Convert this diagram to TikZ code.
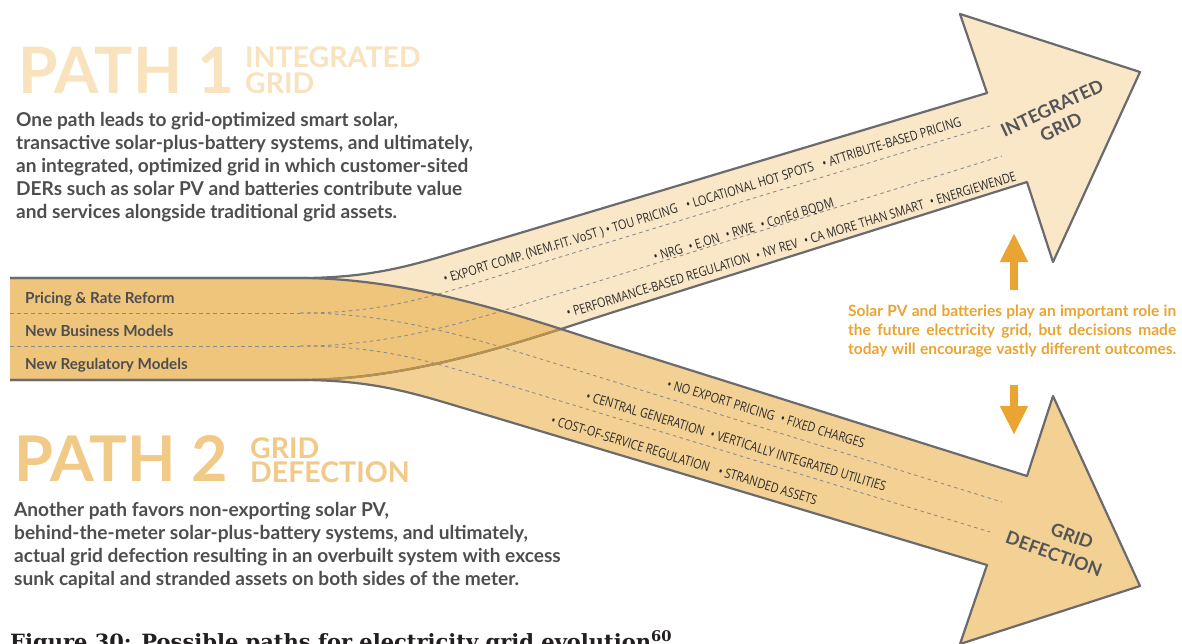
\documentclass[tikz,border=0pt]{standalone}
\usepackage{fontspec}
\newfontfamily\lato{Lato}
\newfontfamily\condfont[FakeStretch=0.82]{Open Sans}
\newfontfamily\capfont{DejaVu Serif}
\usetikzlibrary{arrows.meta}
\definecolor{lightfill}{HTML}{FAE7C8}
\definecolor{midfill}{HTML}{F3D194}
\definecolor{darkfill}{HTML}{EFC47B}
\definecolor{edgegray}{HTML}{6B6B6E}
\definecolor{goldline}{HTML}{B8924C}
\definecolor{dashgray}{HTML}{8C8C8C}
\definecolor{path1col}{HTML}{F9E3BE}
\definecolor{path2col}{HTML}{F2CA88}
\definecolor{bodycol}{HTML}{4E4E50}
\definecolor{headgray}{HTML}{555557}
\definecolor{orangecol}{HTML}{EAA431}
\definecolor{lanecol}{HTML}{2B2B2B}
\definecolor{captioncol}{HTML}{231F20}
\tikzset{
 edge/.style={draw=edgegray, line width=2.2pt, line join=round},
 goldedge/.style={draw=goldline, line width=2.2pt},
 dashline/.style={draw=dashgray, line width=0.9pt, dash pattern=on 3.5pt off 3.5pt},
 lane/.style={font=\condfont\fontsize{13.3}{13.3}\selectfont, text=lanecol, inner sep=0pt, anchor=base west},
 bandlabel/.style={font=\lato\bfseries\fontsize{15.2}{15.2}\selectfont, text=bodycol, inner sep=0pt, anchor=base west},
 body/.style={font=\lato\bfseries\fontsize{19.1}{22.8}\selectfont, text=bodycol, inner sep=0pt, anchor=base west, align=left},
 bigpath/.style={inner sep=0pt, anchor=base west},
 subhead/.style={inner sep=0pt, anchor=base west, align=left},
 headtxt/.style={font=\lato\bfseries\fontsize{18}{18}\selectfont, text=headgray, inner sep=0pt},
 orarrow/.style={draw=orangecol, line width=8pt, -{Triangle[width=26pt,length=29pt]}},
}
\def\upperpath{(10,278) -- (300,278) .. controls (370,278) and (410,266) .. (460,251) -- (987,93) -- (960,14) -- (1140,72) -- (1053,262) -- (1027,182) -- (620,310) .. controls (540,335) and (420,380) .. (300,380) -- (10,380)}
\def\lowerpath{(10,278) -- (300,278) .. controls (420,278) and (540,323) .. (620,348) -- (1027,476) -- (1053,396) -- (1140,586) -- (960,644) -- (987,565) -- (460,407) .. controls (410,392) and (370,380) .. (300,380) -- (10,380)}
\begin{document}
\begin{tikzpicture}[x=1pt,y=-1pt]
\useasboundingbox (0,0) rectangle (1182,643);
\fill[white] (0,0) rectangle (1182,643);
% fills
\fill[midfill] \lowerpath -- cycle;
\fill[lightfill] \upperpath -- cycle;
\begin{scope}
 \clip \upperpath -- cycle;
 \fill[darkfill] \lowerpath -- cycle;
\end{scope}
% dashed lane lines
\draw[dashline] (10,313) -- (300,313);
\draw[dashline] (10,346) -- (300,346);
\draw[dashline] (300,313) .. controls (390,313) and (440,293.7) .. (520,269.3) -- (990,126);
\draw[dashline] (300,346) .. controls (400,346) and (480,317.5) .. (570,290) -- (1002,156);
\draw[dashline] (300,313) .. controls (400,313) and (480,340.5) .. (570,368) -- (1002,502);
\draw[dashline] (300,346) .. controls (390,346) and (440,364.3) .. (520,388.7) -- (990,532);
% edges
\draw[edge] \upperpath;
\begin{scope}
 \clip \lowerpath -- cycle;
 \draw[goldedge] (620,310) .. controls (540,335) and (420,380) .. (300,380);
\end{scope}
\draw[edge] \lowerpath;
% band labels
\node[bandlabel] (l1) at (25,303) {Pricing \& Rate Reform};
\node[bandlabel] (l2) at (25,336) {New Business Models};
\node[bandlabel] (l3) at (25,369) {New Regulatory Models};
% lane texts upper
\node[lane, rotate=17] (u1) at (445,284) {• EXPORT COMP. (NEM.FIT. VoST ) • TOU PRICING\enspace\ • LOCATIONAL HOT SPOTS\enspace\ • ATTRIBUTE-BASED PRICING};
\node[lane, rotate=17] (u2) at (655,262) {• NRG\enspace • E.ON\enspace • RWE\enspace • ConEd BQDM};
\node[lane, rotate=17] (u3) at (568,318) {• PERFORMANCE-BASED REGULATION\enspace • NY REV\enspace • CA MORE THAN SMART\enspace • ENERGIEWENDE};
% lane texts lower
\node[lane, rotate=-17] (d1) at (666,388) {• NO EXPORT PRICING\enspace • FIXED CHARGES};
\node[lane, rotate=-17] (d2) at (585,400) {• CENTRAL GENERATION\enspace • VERTICALLY INTEGRATED UTILITIES};
\node[lane, rotate=-17] (d3) at (550,424) {• COST-OF-SERVICE REGULATION\enspace\ • STRANDED ASSETS};
% arrowhead texts
\node[headtxt, rotate=25] (ig1) at (1052,108) {INTEGRATED};
\node[headtxt, rotate=25] (ig2) at (1061,127) {GRID};
\node[headtxt, rotate=-20] (gd1) at (1072,536) {GRID};
\node[headtxt, rotate=-20] (gd2) at (1054,554) {DEFECTION};
% headings (base anchor = baseline of last line)
\node[bigpath, font=\lato\bfseries\fontsize{64}{64}\selectfont, text=path1col] (p1) at (18,93) {PATH 1};
\node[subhead, font=\lato\bfseries\fontsize{28.5}{26}\selectfont, text=path1col] (p1s) at (245,93) {INTEGRATED\\GRID};
\node[body] (b1) at (16,218) {One path leads to grid-optimized smart solar,\\transactive solar-plus-battery systems, and ultimately,\\an integrated, optimized grid in which customer-sited\\DERs such as solar PV and batteries contribute value\\and services alongside traditional grid assets.};
\node[bigpath, font=\lato\bfseries\fontsize{63}{63}\selectfont, text=path2col] (p2) at (14,481) {PATH 2};
\node[subhead, font=\lato\bfseries\fontsize{28.5}{24}\selectfont, text=path2col] (p2s) at (250,482) {GRID\\DEFECTION};
\node[body] (b2) at (14,585) {Another path favors non-exporting solar PV,\\behind-the-meter solar-plus-battery systems, and ultimately,\\actual grid defection resulting in an overbuilt system with excess\\sunk capital and stranded assets on both sides of the meter.};
% orange note and arrows
\node[inner sep=0pt, anchor=base west, align=left, font=\lato\bfseries\fontsize{15.5}{19}\selectfont, text=orangecol] (note) at (848,354) {\makebox[328pt][s]{Solar PV and batteries play an important role in}\\\makebox[328pt][s]{the future electricity grid, but decisions made}\\\makebox[328pt][s]{today will encourage vastly different outcomes.}};
\coordinate (upbase) at (1014,290);
\coordinate (uptip) at (1014,233);
\coordinate (dnbase) at (1014,385);
\coordinate (dntip) at (1014,435);
\draw[orarrow] (upbase) -- (uptip);
\draw[orarrow] (dnbase) -- (dntip);
% caption (cut off by the page edge)
\node[inner sep=0pt, anchor=base west, font=\capfont\bfseries\fontsize{21}{21}\selectfont, text=captioncol] (cap) at (10,649) {Figure 30: Possible paths for electricity grid evolution\textsuperscript{60}};
\end{tikzpicture}
\end{document}
